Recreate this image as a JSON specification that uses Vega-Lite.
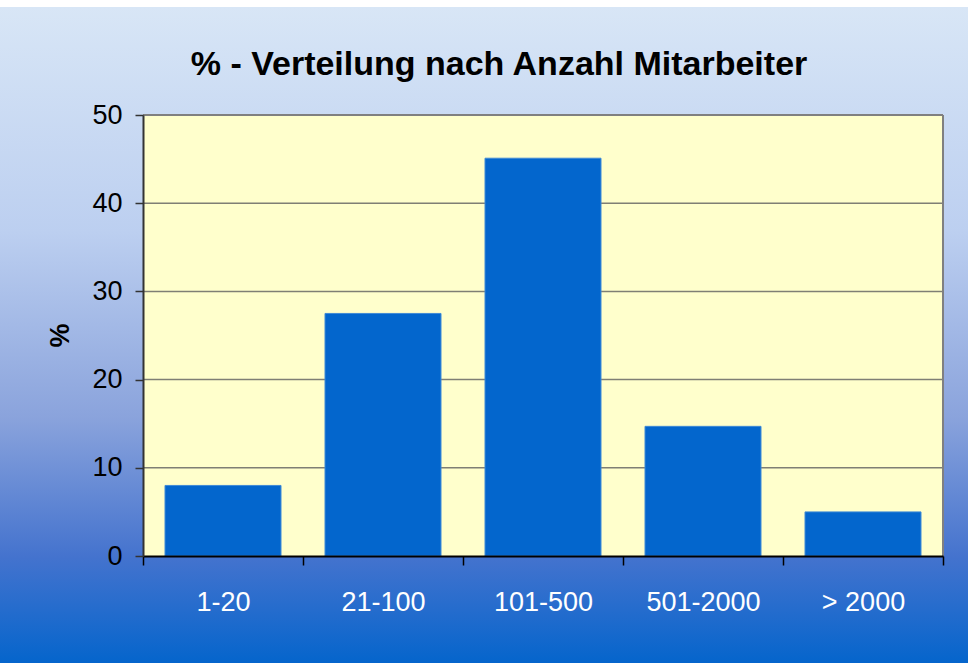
{
  "$schema": "https://vega.github.io/schema/vega-lite/v6.json",
  "width": 968,
  "height": 663,
  "autosize": {"type": "none"},
  "padding": 0,
  "background": "#ffffff",
  "config": {"view": {"stroke": null}},
  "title": {
    "text": "% - Verteilung nach Anzahl Mitarbeiter",
    "font": "Liberation Sans",
    "fontSize": 34,
    "fontWeight": "bold",
    "color": "#000000",
    "frame": "group",
    "anchor": "middle",
    "baseline": "alphabetic",
    "offset": -109,
    "dx": 15
  },
  "data": {
    "values": [
      {"Mitarbeiter": "1-20", "Prozent": 8.0},
      {"Mitarbeiter": "21-100", "Prozent": 27.5},
      {"Mitarbeiter": "101-500", "Prozent": 45.1},
      {"Mitarbeiter": "501-2000", "Prozent": 14.7},
      {"Mitarbeiter": "> 2000", "Prozent": 5.0}
    ]
  },
  "layer": [
    {
      "mark": {
        "type": "rect",
        "fill": {
          "gradient": "linear", "x1": 0, "y1": 0, "x2": 0, "y2": 1,
          "stops": [
            {"offset": 0, "color": "#ffffff"},
            {"offset": 0.0105, "color": "#ffffff"},
            {"offset": 0.011, "color": "#d8e6f6"},
            {"offset": 0.35, "color": "#bccff0"},
            {"offset": 0.63, "color": "#8aa3dc"},
            {"offset": 0.84, "color": "#4473ce"},
            {"offset": 1, "color": "#0565cc"}
          ]
        }
      },
      "encoding": {}
    },
    {
      "mark": {"type": "rect", "fill": "#ffffcc"},
      "encoding": {
        "x": {"field": "Mitarbeiter", "type": "nominal", "sort": null},
        "y": {"datum": 50, "type": "quantitative"},
        "y2": {"datum": 0}
      }
    },
    {
      "mark": {"type": "rect", "fill": null, "stroke": "#7f7f74", "strokeWidth": 1.5},
      "encoding": {
        "x": {"field": "Mitarbeiter", "type": "nominal", "sort": null},
        "y": {"datum": 10, "type": "quantitative"},
        "y2": {"datum": 10}
      }
    },
    {
      "mark": {"type": "rect", "fill": null, "stroke": "#7f7f74", "strokeWidth": 1.5},
      "encoding": {
        "x": {"field": "Mitarbeiter", "type": "nominal", "sort": null},
        "y": {"datum": 20, "type": "quantitative"},
        "y2": {"datum": 20}
      }
    },
    {
      "mark": {"type": "rect", "fill": null, "stroke": "#7f7f74", "strokeWidth": 1.5},
      "encoding": {
        "x": {"field": "Mitarbeiter", "type": "nominal", "sort": null},
        "y": {"datum": 30, "type": "quantitative"},
        "y2": {"datum": 30}
      }
    },
    {
      "mark": {"type": "rect", "fill": null, "stroke": "#7f7f74", "strokeWidth": 1.5},
      "encoding": {
        "x": {"field": "Mitarbeiter", "type": "nominal", "sort": null},
        "y": {"datum": 40, "type": "quantitative"},
        "y2": {"datum": 40}
      }
    },
    {
      "mark": {"type": "rect", "fill": null, "stroke": "#808080", "strokeWidth": 2},
      "encoding": {
        "x": {"field": "Mitarbeiter", "type": "nominal", "sort": null},
        "y": {"datum": 50, "type": "quantitative"},
        "y2": {"datum": 50}
      }
    },
    {
      "transform": [{"filter": "datum.Mitarbeiter == '> 2000'"}],
      "mark": {"type": "rule", "stroke": "#808080", "strokeWidth": 2},
      "encoding": {
        "x": {"field": "Mitarbeiter", "type": "nominal", "sort": null, "bandPosition": 1},
        "y": {"datum": 0, "type": "quantitative"},
        "y2": {"datum": 50}
      }
    },
    {
      "mark": {"type": "bar", "width": {"band": 0.725}, "fill": "#0366cd", "stroke": "#3f8ad6", "strokeWidth": 1},
      "encoding": {
        "x": {
          "field": "Mitarbeiter", "type": "nominal", "sort": null,
          "scale": {"paddingInner": 0, "paddingOuter": 0, "range": [143, 943]},
          "axis": {
            "title": null, "labelAngle": 0, "labelAlign": "center", "labelBaseline": "top",
            "labelColor": "#ffffff", "labelFontSize": 27,
            "labelFont": "Liberation Sans", "labelPadding": 24, "tickBand": "extent",
            "tickSize": 9, "tickColor": "#000000", "tickWidth": 1.5,
            "domainColor": "#000000", "domainWidth": 2, "grid": false,
            "offset": -107, "zindex": 1
          }
        },
        "y": {
          "field": "Prozent", "type": "quantitative",
          "scale": {"domain": [0, 50], "range": [556, 115], "nice": false},
          "axis": {
            "title": "%", "titleFont": "Liberation Sans", "titleFontSize": 27, "titleFontWeight": "bold",
            "titleColor": "#000000", "titleX": -83, "titleY": 335, "titleAngle": -90,
            "titleAlign": "center", "titleBaseline": "middle",
            "values": [0, 10, 20, 30, 40, 50],
            "labelFont": "Liberation Sans", "labelFontSize": 27, "labelColor": "#000000", "labelPadding": 13,
            "tickSize": 8, "tickColor": "#333333", "tickWidth": 1.5,
            "domainColor": "#333333", "domainWidth": 2, "grid": false,
            "offset": -143, "zindex": 1
          }
        }
      }
    }
  ]
}
